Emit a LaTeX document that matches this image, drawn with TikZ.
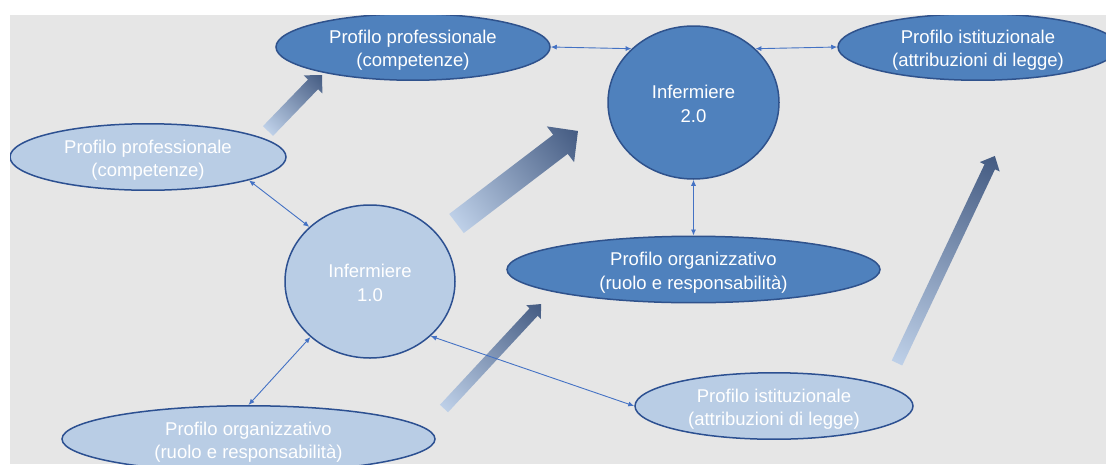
\documentclass[tikz,border=0pt]{standalone}
\usepackage{fontspec}
\setmainfont{Liberation Sans}
\usetikzlibrary{shapes.geometric,arrows.meta}
\definecolor{bgray}{RGB}{230,230,230}
\definecolor{darkfill}{RGB}{79,129,189}
\definecolor{darkline}{RGB}{47,82,140}
\definecolor{lightfill}{RGB}{185,205,229}
\definecolor{lightline}{RGB}{44,80,145}
\definecolor{linkblue}{RGB}{68,114,196}
\definecolor{arrlight}{RGB}{190,208,232}
\definecolor{arrdark}{RGB}{68,91,130}
\tikzset{
  ellbase/.style={ellipse, inner sep=0pt, text=white,
    font=\fontsize{18.5}{23.5}\selectfont, line width=1.5pt},
  darkell/.style={ellbase, fill=darkfill, draw=darkline},
  lightell/.style={ellbase, fill=lightfill, draw=lightline},
  link/.style={draw=linkblue, line width=0.9pt,
    {Latex[length=6pt,width=5pt]}-{Latex[length=6pt,width=5pt]}}
}
\newcommand\twolines[2]{\raisebox{-3.5pt}[\height][\depth]{\begin{tabular}{@{}c@{}}#1\\#2\end{tabular}}}
% #1 tail x, #2 tail y, #3 angle, #4 length, #5 shaft half, #6 head half, #7 head length
\newcommand\fatarr[7]{%
  \begin{scope}[transform canvas={shift={(#1,#2)},rotate=#3}]
    \shade[left color=arrlight, right color=arrdark]
      (0,-#5) -- ({#4-#7},-#5) -- ({#4-#7},-#6) -- (#4,0) --
      ({#4-#7},#6) -- ({#4-#7},#5) -- (0,#5) -- cycle;
  \end{scope}}
\begin{document}
\begin{tikzpicture}[x=1pt,y=-1pt]
\useasboundingbox (0,0) rectangle (1106,464);
\fill[white] (0,0) rectangle (1106,464);
\begin{scope}
\clip (10,15) rectangle (1106,464);
\fill[bgray] (10,15) rectangle (1106,464);

% fat gradient arrows
\fatarr{268}{131}{46.0}{77.8}{7}{13}{13}
\fatarr{456.5}{223.5}{37.3}{152.7}{12}{22.5}{22}
\fatarr{444}{408.5}{47.1}{142.6}{5.5}{10}{11}
\fatarr{897}{363}{64.7}{229}{5.8}{11}{12}

% nodes
\node[darkell, minimum width=274, minimum height=66] (P2) at (413,47) {\twolines{Profilo professionale}{(competenze)}};
\node[darkell, minimum width=171, minimum height=153] (I2) at (693.5,102.5) {\twolines{Infermiere}{2.0}};
\node[darkell, minimum width=280, minimum height=66] (S2) at (978,47) {\twolines{Profilo istituzionale}{(attribuzioni di legge)}};
\node[darkell, minimum width=373, minimum height=65] (O2) at (693.5,269.5) {\twolines{Profilo organizzativo}{(ruolo e responsabilità)}};
\node[lightell, minimum width=276, minimum height=64] (P1) at (148,157) {\twolines{Profilo professionale}{(competenze)}};
\node[lightell, minimum width=170, minimum height=153] (I1) at (370,281.5) {\twolines{Infermiere}{1.0}};
\node[lightell, minimum width=373, minimum height=66] (O1) at (248.5,439) {\twolines{Profilo organizzativo}{(ruolo e responsabilità)}};
\node[lightell, minimum width=278, minimum height=64] (S1) at (774,406) {\twolines{Profilo istituzionale}{(attribuzioni di legge)}};

% thin double arrows
\draw[link] (P2.east) -- (I2.139);
\draw[link] (I2.41) -- (S2.west);
\draw[link] (I2.south) -- (O2.north);
\draw[link] (P1.-13) -- (I1.138.7);
\draw[link] (I1.223) -- (O1.north);
\draw[link] (I1.-42) -- (S1.west);
\end{scope}
\end{tikzpicture}
\end{document}
